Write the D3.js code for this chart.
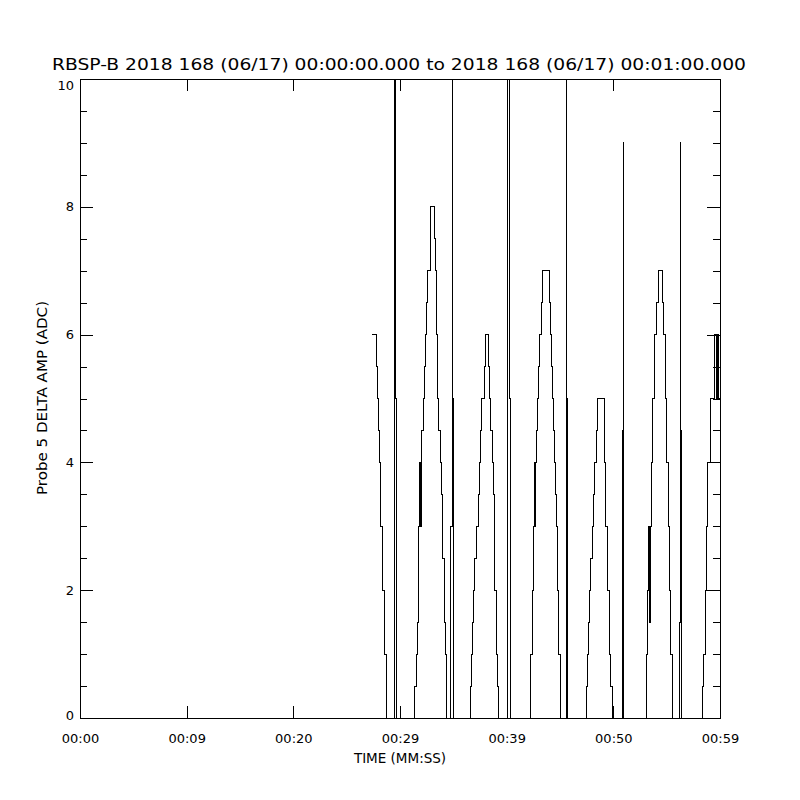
<!DOCTYPE html>
<html><head><meta charset="utf-8">
<script src="https://cdn.jsdelivr.net/npm/d3@7"></script>
<style>body{margin:0;background:#fff}svg{display:block}text{font-family:"DejaVu Sans",sans-serif;fill:#000}</style>
</head><body>
<svg id="c" width="800" height="800"></svg>
<script>
const titleText = "RBSP-B 2018 168 (06/17) 00:00:00.000 to 2018 168 (06/17) 00:01:00.000";
const xTitle = "TIME (MM:SS)";
const yTitle = "Probe 5 DELTA AMP (ADC)";
const xTickValues = [0, 10, 20, 30, 40, 50, 60];
const xTickLabels = ["00:00", "00:09", "00:20", "00:29", "00:39", "00:50", "00:59"];
const yTickValues = [0, 2, 4, 6, 8, 10];
const yMinorValues = [0.5,1,1.5,2.5,3,3.5,4.5,5,5.5,6.5,7,7.5,8.5,9,9.5];

// sample start time (s) and value (ADC); each value holds until the next sample
const sampleTimes = [
  27.403, 27.816, 27.909, 28.003, 28.097, 28.191, 28.341, 28.500, 28.688, 29.440, 29.559, 29.625,
  31.406, 31.500, 31.594, 31.688, 31.753, 31.809, 31.922, 31.969, 32.184, 32.278, 32.372, 32.503, 32.559, 32.813,
  33.216, 33.347, 33.441, 33.534, 33.656, 33.750, 33.844, 33.966, 34.125, 34.247, 34.359,
  34.753, 34.875, 34.903, 34.997,
  36.609, 36.703, 36.797, 36.891, 36.984, 37.125, 37.341, 37.434, 37.500, 37.594, 37.903, 37.997,
  38.278, 38.344, 38.531, 38.672, 38.766, 38.841, 38.906, 39.000, 39.122, 39.253,
  40.078, 40.219, 40.313,
  42.188, 42.281, 42.375, 42.469, 42.563, 42.628, 42.675, 42.816, 42.909, 42.966, 43.059, 43.219, 43.341,
  43.997, 44.128, 44.222, 44.316, 44.409, 44.503, 44.559, 44.653, 44.719, 44.813, 45.000,
  45.563, 45.628, 45.684,
  47.438, 47.559, 47.672, 47.766, 47.878, 48.000, 48.122, 48.281, 48.375, 48.497,
  49.125, 49.247, 49.434, 49.622, 49.781, 49.903,
  50.813, 50.934, 50.963,
  53.063, 53.184, 53.278, 53.372, 53.438, 53.531, 53.597, 53.691, 53.813, 54.000, 54.188,
  54.591, 54.684, 54.872, 55.003, 55.153, 55.247, 55.406, 55.547,
  56.184, 56.250, 56.297, 56.363,
  58.313, 58.434, 58.622, 58.753, 58.809, 59.063, 59.466, 59.625, 59.747, 59.841, 60.000
];
const sampleValues = [
  6, 5.5, 5, 4.5, 4, 3, 2, 1, 0, 12, 5, 0,
  0.5, 1, 1.5, 2, 3, 4, 3, 4.5, 5, 5.5, 6, 6.5, 7, 8,
  7.5, 7, 6, 5, 4.5, 4, 3.5, 2.5, 1.5, 1, 0,
  3, 12, 5, 0,
  0.5, 1, 1.5, 2, 2.5, 3, 3.5, 4, 4.5, 5, 5.5, 6,
  5.5, 5, 4.5, 4, 3.5, 3, 2, 1, 0.5, 0,
  12, 5, 0,
  0.5, 1, 2, 3, 4, 3, 4, 4.5, 5, 5.5, 6, 6.5, 7,
  6.5, 6, 5.5, 5, 4.5, 4, 3.5, 3, 2, 1, 0,
  12, 5, 0,
  0.5, 1, 1.5, 2, 2.5, 3, 3.5, 4, 4.5, 5,
  4, 3, 2, 1, 0.5, 0,
  4.5, 9, 0,
  1, 2, 3, 1.5, 2.5, 3, 4, 5, 6, 6.5, 7,
  6.5, 6, 5, 4, 3, 2, 1, 0,
  1.5, 9, 4.5, 0,
  0.5, 1, 2, 3, 4, 5, 6, 5, 6, 5, 5
];

const svg = d3.select("#c");
const L = 80, R = 720, T = 79, B = 718;
const x = d3.scaleLinear().domain([0, 60]).range([L, R]);
const y = d3.scaleLinear().domain([0, 10]).range([B, T]);

svg.append("rect").attr("width", 800).attr("height", 800).attr("fill", "#fff");

svg.append("defs").append("clipPath").attr("id", "clip")
  .append("rect").attr("x", L).attr("y", T).attr("width", R - L).attr("height", B - T);

// data
const data = sampleTimes.map((t, i) => [t, sampleValues[i]]);
const line = d3.line().x(d => x(d[0])).y(d => y(d[1])).curve(d3.curveStepAfter);
svg.append("path").datum(data)
  .attr("clip-path", "url(#clip)")
  .attr("d", line).attr("fill", "none").attr("stroke", "#000").attr("stroke-width", 1)
  .attr("shape-rendering", "crispEdges");

function styleAxis(g) {
  g.select(".domain").remove();
  g.selectAll(".tick line").attr("stroke", "#000").attr("shape-rendering", "crispEdges");
  g.selectAll("text").style("font-family", '"DejaVu Sans", sans-serif').attr("fill", "#000");
}

// bottom axis
const fmt = d => xTickLabels[xTickValues.indexOf(d)];
svg.append("g").attr("transform", `translate(0,${B})`)
  .call(d3.axisBottom(x).tickValues(xTickValues).tickFormat(fmt).tickSizeInner(-12).tickSizeOuter(0).tickPadding(16))
  .call(styleAxis)
  .selectAll("text").style("font-size", "13px");
// top axis
svg.append("g").attr("transform", `translate(0,${T})`)
  .call(d3.axisTop(x).tickValues(xTickValues).tickFormat("").tickSizeInner(-12).tickSizeOuter(0))
  .call(styleAxis);
// left axis
const gl = svg.append("g").attr("transform", `translate(${L},0)`)
  .call(d3.axisLeft(y).tickValues(yTickValues).tickFormat(d3.format("d")).tickSizeInner(-13).tickSizeOuter(0).tickPadding(6))
  .call(styleAxis);
gl.selectAll("text").style("font-size", "13px")
  .attr("dy", d => d === 10 ? "10px" : d === 0 ? "1.5px" : "0.32em");
svg.append("g").attr("transform", `translate(${L},0)`)
  .call(d3.axisLeft(y).tickValues(yMinorValues).tickFormat("").tickSizeInner(-7).tickSizeOuter(0))
  .call(styleAxis);
// right axis
svg.append("g").attr("transform", `translate(${R},0)`)
  .call(d3.axisRight(y).tickValues(yTickValues).tickFormat("").tickSizeInner(-13).tickSizeOuter(0))
  .call(styleAxis);
svg.append("g").attr("transform", `translate(${R},0)`)
  .call(d3.axisRight(y).tickValues(yMinorValues).tickFormat("").tickSizeInner(-7).tickSizeOuter(0))
  .call(styleAxis);

// frame
svg.append("rect").attr("x", L).attr("y", T).attr("width", R - L).attr("height", B - T)
  .attr("fill", "none").attr("stroke", "#000").attr("stroke-width", 1).attr("shape-rendering", "crispEdges");

// titles
svg.append("text").attr("x", 399).attr("y", 70).attr("text-anchor", "middle")
  .style("font-size", "16.5px").attr("textLength", 694).attr("lengthAdjust", "spacingAndGlyphs")
  .text(titleText);
svg.append("text").attr("x", 400).attr("y", 762.5).attr("text-anchor", "middle")
  .style("font-size", "13.5px").text(xTitle);
svg.append("text").attr("transform", "translate(47,398) rotate(-90)").attr("text-anchor", "middle")
  .style("font-size", "13.5px").attr("textLength", 194).attr("lengthAdjust", "spacingAndGlyphs")
  .text(yTitle);
</script>
</body></html>
